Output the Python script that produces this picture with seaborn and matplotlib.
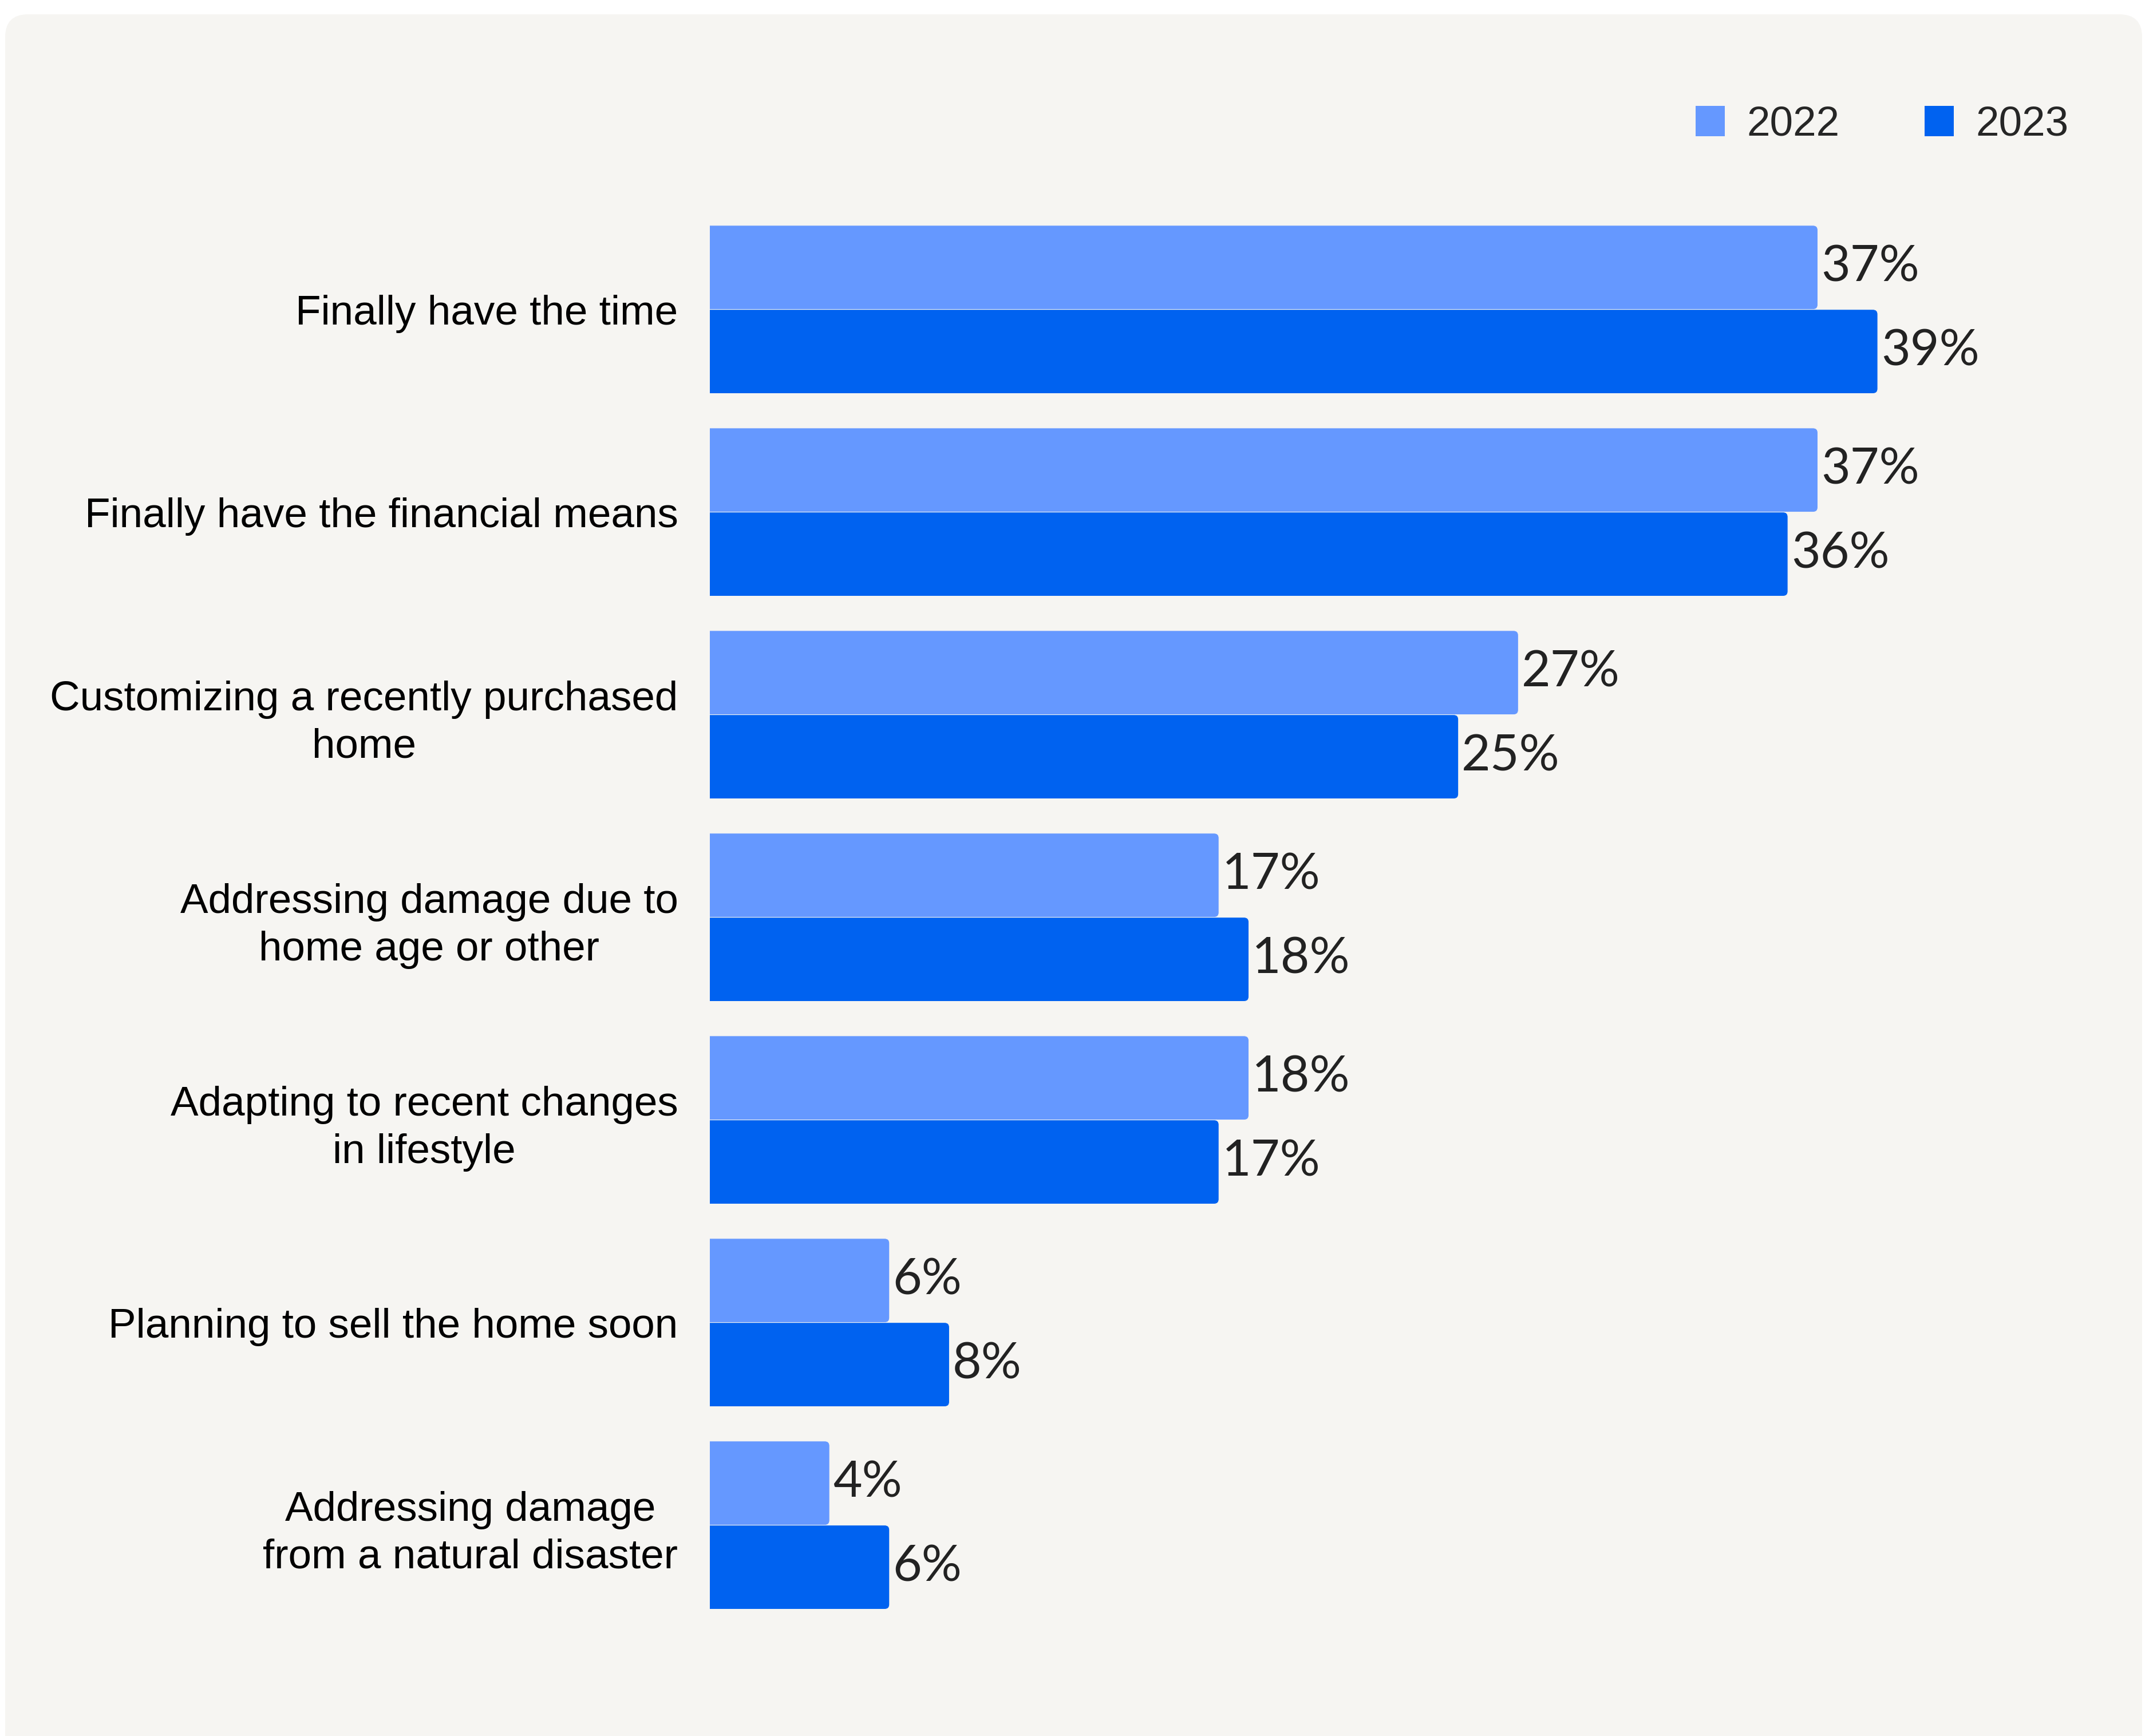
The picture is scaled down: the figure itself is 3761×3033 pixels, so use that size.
import pandas as pd
import matplotlib
import matplotlib.pyplot as plt
import seaborn as sns
from matplotlib.patches import FancyBboxPatch, Patch
from matplotlib.transforms import IdentityTransform
matplotlib.use("Agg")

# data
categories = [
    "Finally have the time",
    "Finally have the financial means",
    "Customizing a recently purchased\nhome",
    "Addressing damage due to\nhome age or other",
    "Adapting to recent changes\nin lifestyle",
    "Planning to sell the home soon",
    "Addressing damage\nfrom a natural disaster",
]
years = ["2022", "2023"]
values_2022 = [37, 37, 27, 17, 18, 6, 4]
values_2023 = [39, 36, 25, 18, 17, 8, 6]
colors = {"2022": "#6598ff", "2023": "#0062f0"}

df = pd.DataFrame({
    "Reason": categories * 2,
    "Year": [years[0]] * len(categories) + [years[1]] * len(categories),
    "Share": values_2022 + values_2023,
})

sns.set_style("white")
plt.rcParams["font.family"] = ["Liberation Sans", "DejaVu Sans"]

W, H, DPI = 3761, 3033, 100
fig = plt.figure(figsize=(W / DPI, H / DPI), dpi=DPI, facecolor="white")

# rounded light panel behind everything
panel = FancyBboxPatch((9, -60), 3733, 3068,
                       boxstyle="round,pad=0,rounding_size=40",
                       transform=IdentityTransform(), facecolor="#f6f5f2",
                       edgecolor="none", zorder=-10)
fig.patches.append(panel)

ax = fig.add_axes([0.3297, 0.0631, 0.6259, 0.8170])
ax.set_facecolor("none")

sns.barplot(data=df, y="Reason", x="Share", hue="Year", palette=colors,
            orient="h", width=0.83, linewidth=0, saturation=1, ax=ax)

ax.set_xlim(0, 45)
ax.set_ylim(6.5, -0.5)
ax.set_xlabel("")
ax.set_ylabel("")
ax.set_xticks([])
sns.despine(ax=ax, left=True, bottom=True)
ax.tick_params(axis="y", length=0, pad=40)
for lbl in ax.get_yticklabels():
    lbl.set_fontsize(52.5)
    lbl.set_multialignment("center")
    lbl.set_linespacing(1.3)
    lbl.set_color("black")

for cont in ax.containers:
    ax.bar_label(cont, fmt="{:.0f}%", padding=4, fontsize=63,
                 family=["Lato", "DejaVu Sans"], color="#222222")

# swap the square bars for ones with slightly rounded right ends
aspect = (1 / (0.8170 * H / 7)) / (1 / (0.6259 * W / 45))
for cont in ax.containers:
    for rect in cont:
        x0, y0 = rect.get_x(), rect.get_y()
        w, h = rect.get_width(), rect.get_height()
        rounded = FancyBboxPatch((x0 - 0.5, y0), w + 0.5, h,
                                 boxstyle="round,pad=0,rounding_size=0.16",
                                 mutation_aspect=aspect,
                                 facecolor=rect.get_facecolor(),
                                 edgecolor="#f6f5f2", linewidth=0.8)
        ax.add_patch(rounded)
        rect.set_visible(False)

ax.get_legend().remove()
handles = [Patch(facecolor=colors[y], edgecolor="none") for y in years]
fig.legend(handles, years, loc="center left",
           bbox_to_anchor=(2962 / W, 1 - 218 / H), ncol=2, frameon=False,
           fontsize=52.5, handlelength=0.7, handleheight=0.74,
           handletextpad=0.53, columnspacing=2.03, borderpad=0,
           borderaxespad=0)

fig.savefig("out.png", dpi=DPI, facecolor="white")
